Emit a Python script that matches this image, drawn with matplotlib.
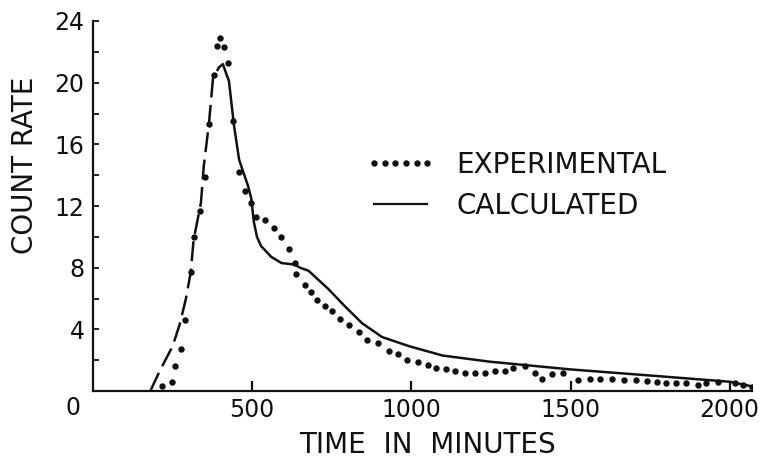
import matplotlib
matplotlib.use("Agg")
import matplotlib.pyplot as plt
from matplotlib.lines import Line2D
from matplotlib.transforms import offset_copy

# data
exp_time = [218, 247, 258, 276, 290, 307, 316, 335, 352, 364, 380, 388, 399, 412, 424,
            440, 459, 478, 497, 513, 541, 570, 592, 617, 633, 639, 665, 684, 703, 728,
            750, 775, 804, 835, 861, 896, 930, 959, 987, 1022, 1051, 1076, 1108, 1136,
            1168, 1199, 1231, 1262, 1293, 1320, 1357, 1388, 1409, 1441, 1475, 1525, 1562,
            1594, 1631, 1668, 1705, 1741, 1773, 1800, 1831, 1863, 1900, 1926, 1963, 2016,
            2042, 2069]
exp_rate = [0.3, 0.6, 1.6, 2.7, 4.6, 7.7, 10.0, 11.7, 13.9, 17.3, 20.5, 22.4, 22.9, 22.3, 21.3,
            17.5, 14.2, 13.0, 12.2, 11.3, 11.1, 10.6, 10.0, 9.2, 8.3, 7.6, 6.9, 6.4, 5.9, 5.5,
            5.2, 4.7, 4.3, 3.8, 3.3, 3.1, 2.6, 2.4, 2.0, 1.9, 1.7, 1.5, 1.4, 1.3,
            1.2, 1.2, 1.2, 1.3, 1.3, 1.5, 1.6, 1.15, 0.8, 1.1, 1.2, 0.7, 0.8,
            0.8, 0.8, 0.7, 0.7, 0.65, 0.6, 0.55, 0.5, 0.5, 0.4, 0.5, 0.6, 0.5,
            0.4, 0.25]

calc_rise_time = [180, 212, 250, 272, 291, 307, 316, 339, 348, 364, 377, 396]
calc_rise_rate = [0.0, 1.4, 2.9, 4.3, 5.9, 7.7, 9.8, 12.2, 14.6, 17.3, 20.3, 21.0]

calc_fall_time = [396, 408, 427, 443, 459, 487, 497, 505, 515, 528, 560, 592, 633, 650, 677,
                  740, 791, 845, 908, 994, 1098, 1247, 1500, 1753, 2000, 2070]
calc_fall_rate = [21.0, 21.2, 20.1, 17.2, 15.0, 13.3, 12.5, 11.0, 10.0, 9.4, 8.7, 8.3, 8.2, 8.0, 7.8,
                  6.6, 5.5, 4.4, 3.5, 2.9, 2.3, 1.9, 1.4, 1.0, 0.6, 0.3]

x_ticks = [500, 1000, 1500, 2000]
y_ticks = [4, 8, 12, 16, 20, 24]
y_minor = [2, 6, 10, 14, 18, 22]

ink = "#111111"
plt.rcParams["font.family"] = ["DejaVu Sans"]

fig = plt.figure(figsize=(7.68, 4.67), dpi=100)
W, H = 768, 467
ax = fig.add_axes([93 / W, 1 - 391 / H, (752 - 93) / W, (391 - 21) / H])

ax.plot(calc_rise_time, calc_rise_rate, color=ink, lw=1.8, linestyle=(0, (8, 3)))
ax.plot(calc_fall_time, calc_fall_rate, color=ink, lw=1.8)
ax.plot(exp_time, exp_rate, linestyle="none", marker="o", ms=3.6, color=ink)

ax.set_xlim(0, 2070)
ax.set_ylim(0, 24)
ax.set_xticks(x_ticks)
ax.set_xticklabels([str(t) for t in x_ticks])
ax.set_yticks(y_ticks)
ax.set_yticklabels([str(t) for t in y_ticks])
ax.set_yticks(y_minor, minor=True)

for side in ["top", "right"]:
    ax.spines[side].set_visible(False)
for side in ["left", "bottom"]:
    ax.spines[side].set_linewidth(1.6)
    ax.spines[side].set_color(ink)

ax.tick_params(axis="x", direction="in", length=7, width=1.6, pad=5,
               labelsize=17, colors=ink)
ax.tick_params(axis="y", which="both", direction="in", length=4, width=1.3, pad=6,
               labelsize=17, colors=ink)

# shared origin label sits left of the corner
ax.text(0, 0, "0", transform=offset_copy(ax.transAxes, fig=fig, x=-20, y=-17, units="dots"),
        ha="center", va="center", fontsize=17, color=ink)

fig.text(427 / W, 1 - 445 / H, "TIME  IN  MINUTES", ha="center", va="center",
         fontsize=20, color=ink)
fig.text(25 / W, 1 - 165 / H, "COUNT RATE", ha="center", va="center", rotation=90,
         fontsize=20, color=ink)

handles = [
    Line2D([], [], linestyle="none", marker="o", ms=3.6, color=ink),
    Line2D([], [], color=ink, lw=1.6),
]
ax.legend(handles, ["EXPERIMENTAL", "CALCULATED"], numpoints=6,
          loc="upper left", bbox_to_anchor=(366 / W, 1 - 151 / H),
          bbox_transform=fig.transFigure, frameon=False, fontsize=20,
          handlelength=2.5, handletextpad=0.75, labelspacing=0.45,
          borderpad=0, borderaxespad=0, labelcolor=ink)

fig.savefig("out.png", dpi=100, facecolor="white")
